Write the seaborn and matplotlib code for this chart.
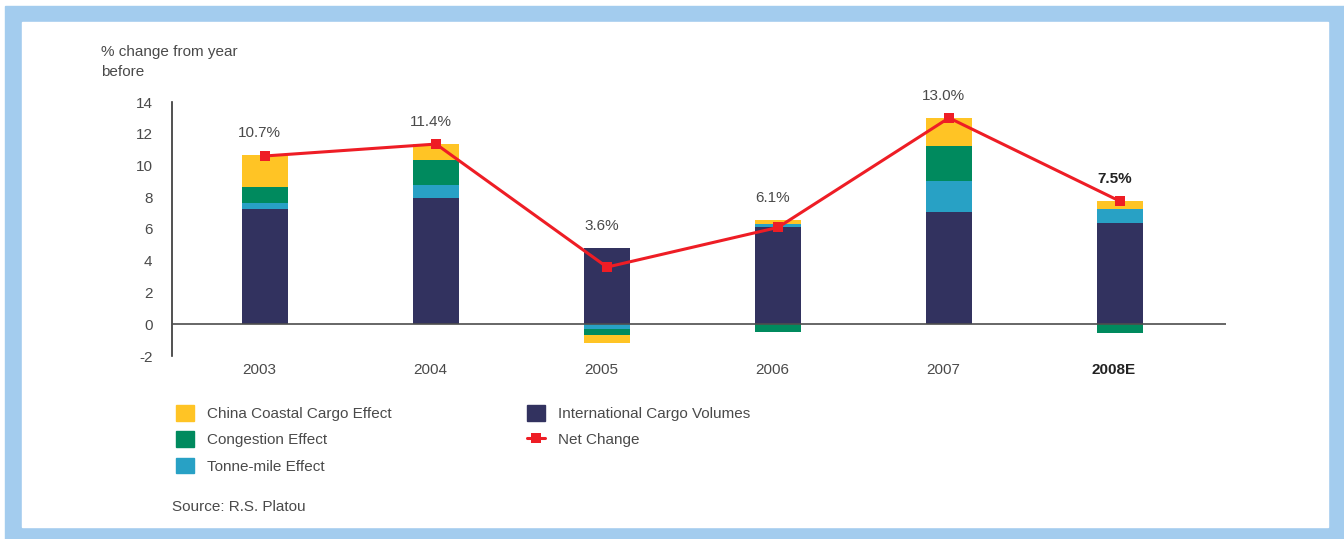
import matplotlib
matplotlib.use("Agg")
import matplotlib.pyplot as plt
import matplotlib.patches as mpatches
from matplotlib.lines import Line2D
from matplotlib.transforms import ScaledTranslation
import numpy as np
import seaborn as sns

# ── Data ─────────────────────────────────────────────────────────────────────
YEARS      = ["2003", "2004", "2005", "2006", "2007", "2008E"]
INTL       = [7.25, 7.95, 4.80, 6.10, 7.05, 6.35]    # International Cargo Volumes
TONNE      = [0.38, 0.80, -0.30, 0.20, 1.95, 0.90]   # Tonne-mile Effect
CONGEST    = [1.00, 1.60, -0.40, -0.50, 2.20, -0.55] # Congestion Effect
CHINA      = [2.02, 1.00, -0.50, 0.25, 1.80, 0.50]   # China Coastal Cargo Effect
NET        = [10.6, 11.35, 3.6, 6.1, 13.0, 7.75]     # Net Change
NET_LABELS = ["10.7%", "11.4%", "3.6%", "6.1%", "13.0%", "7.5%"]
Y_TICKS    = [-2, 0, 2, 4, 6, 8, 10, 12, 14]

# ── Style ────────────────────────────────────────────────────────────────────
C_CHINA   = "#FFC425"
C_CONGEST = "#008A5E"
C_TONNE   = "#28A1C5"
C_INTL    = "#32325F"
C_NET     = "#EE1D25"
C_FRAME   = "#A3CCEE"
C_TEXT    = "#4a4a4a"
FS        = 11
W, H      = 1344, 539

sns.set_style("white")
plt.rcParams["font.family"] = ["Liberation Sans", "DejaVu Sans"]

fig = plt.figure(figsize=(W / 100, H / 100), dpi=100)
fig.patch.set_facecolor("white")

# light-blue frame around a white panel
fig.patches.append(mpatches.Rectangle((5 / W, 0), (W - 5) / W, (H - 6) / H,
                                      transform=fig.transFigure, color=C_FRAME, zorder=-10))
fig.patches.append(mpatches.Rectangle((22 / W, 12 / H), 1306 / W, 505 / H,
                                      transform=fig.transFigure, color="white", zorder=-9))

ax = fig.add_axes([172 / W, 1 - 356 / H, (1226 - 172) / W, (356 - 102) / H])
ax.set_facecolor("none")

pos = np.arange(len(YEARS))

# ── Stacked bars (positives stack up, negatives stack down) ──────────────────
pos_base = np.zeros(len(YEARS))
neg_base = np.zeros(len(YEARS))
for vals, col in [(INTL, C_INTL), (TONNE, C_TONNE), (CONGEST, C_CONGEST), (CHINA, C_CHINA)]:
    v = np.array(vals)
    bottom = np.where(v >= 0, pos_base, neg_base)
    sns.barplot(x=pos, y=v, bottom=bottom, color=col, width=0.27, saturation=1,
                linewidth=0, errorbar=None, ax=ax, zorder=2)
    pos_base = pos_base + np.clip(v, 0, None)
    neg_base = neg_base + np.clip(v, None, 0)

# ── Net change line ──────────────────────────────────────────────────────────
sns.lineplot(x=pos, y=NET, color=C_NET, linewidth=2.2, marker="s", markersize=7,
             markeredgewidth=0, sort=False, ax=ax, zorder=5)

# value labels above each column
for i, (lab, net) in enumerate(zip(NET_LABELS, NET)):
    top = max(pos_base[i], net)
    bold = YEARS[i].endswith("E")
    ax.annotate(lab, xy=(pos[i], top), xytext=(-4, 16), textcoords="offset points",
                ha="center", va="center", fontsize=FS,
                color="#222222" if bold else C_TEXT,
                fontweight="bold" if bold else "normal")

ax.axhline(0, color="#4d4d4d", linewidth=1.2, zorder=3)

ax.set_xlim(-0.544, 5.62)
ax.set_ylim(-2, 14)
ax.set_yticks(Y_TICKS)
ax.set_yticklabels([str(t) for t in Y_TICKS])
ax.set_xticks(pos)
ax.set_xticklabels(YEARS)
ax.set_xlabel("")
ax.set_ylabel("")
ax.tick_params(axis="y", length=0, pad=14, labelsize=FS, labelcolor=C_TEXT)
ax.tick_params(axis="x", length=0, pad=5, labelsize=FS, labelcolor=C_TEXT)
for lbl in ax.get_xticklabels():
    lbl.set_transform(lbl.get_transform() + ScaledTranslation(-6 / 100, 0, fig.dpi_scale_trans))
    if lbl.get_text().endswith("E"):
        lbl.set_fontweight("bold")
        lbl.set_color("#222222")

ax.spines[["top", "right", "bottom"]].set_visible(False)
ax.spines["left"].set_color("#333333")
ax.spines["left"].set_linewidth(1.2)

# ── Y axis title & source ────────────────────────────────────────────────────
fig.text(101 / W, 1 - 52 / H, "% change from year", fontsize=FS, color=C_TEXT, va="center")
fig.text(101 / W, 1 - 72 / H, "before", fontsize=FS, color=C_TEXT, va="center")
fig.text(172 / W, 1 - 507 / H, "Source: R.S. Platou", fontsize=FS, color=C_TEXT, va="center")

# ── Legend (two columns) ─────────────────────────────────────────────────────
leg_kw = dict(loc="upper left", frameon=False, fontsize=FS, handlelength=1.2,
              handleheight=1.2, handletextpad=0.8, labelspacing=0.68,
              borderpad=0, borderaxespad=0, labelcolor=C_TEXT)
left_handles = [mpatches.Patch(color=C_CHINA, label="China Coastal Cargo Effect"),
                mpatches.Patch(color=C_CONGEST, label="Congestion Effect"),
                mpatches.Patch(color=C_TONNE, label="Tonne-mile Effect")]
right_handles = [mpatches.Patch(color=C_INTL, label="International Cargo Volumes"),
                 Line2D([], [], color=C_NET, linewidth=2.2, marker="s", markersize=7,
                        markeredgewidth=0, label="Net Change")]
fig.legend(handles=left_handles, bbox_to_anchor=(176 / W, 1 - 405 / H), **leg_kw)
fig.legend(handles=right_handles, bbox_to_anchor=(527 / W, 1 - 405 / H), **leg_kw)

fig.savefig("out.png", dpi=100)
